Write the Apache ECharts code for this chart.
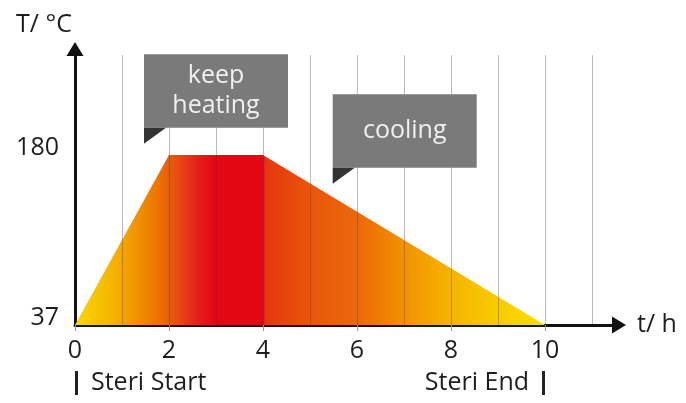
<!DOCTYPE html>
<html>
<head>
<meta charset="utf-8">
<script src="https://cdn.jsdelivr.net/npm/echarts@6/dist/echarts.min.js"></script>
<style>
  html, body { margin: 0; padding: 0; background: #fff; }
  #chart { width: 686px; height: 403px; }
</style>
</head>
<body>
<div id="chart"></div>
<script>
// 温度曲线 (h, °C)
const timeH = [0, 2, 4, 10];
const tempC = [37, 180, 180, 37];
const xTickValues = [0, 2, 4, 6, 8, 10];
const yTickValues = [37, 180];
const gridHours = [1, 2, 3, 4, 5, 6, 7, 8, 9, 10, 11];
const holdTemp = 180;
const phaseLabels = ["keep\nheating", "cooling"];
const startLabel = "Steri Start";
const endLabel = "Steri End";

const FONT = '"Open Sans", sans-serif';
const TEXT = "#1e1e1e";
const X_MAX = 11.574;
const Y_MAX = 269.2;

const chart = echarts.init(document.getElementById("chart"));

// 横向渐变: 黄 -> 橙 -> 红 -> 橙 -> 黄
const fill = new echarts.graphic.LinearGradient(0, 0, 1, 0, [
  { offset: 0, color: "#f9d800" },
  { offset: 0.08, color: "#f6b400" },
  { offset: 0.12, color: "#f29a00" },
  { offset: 0.17, color: "#ee7800" },
  { offset: 0.21, color: "#e9540f" },
  { offset: 0.26, color: "#e3201a" },
  { offset: 0.3, color: "#e30613" },
  { offset: 0.4, color: "#e30613" },
  { offset: 0.405, color: "#e5360f" },
  { offset: 0.5, color: "#e9560c" },
  { offset: 0.6, color: "#eb680a" },
  { offset: 0.7, color: "#f29200" },
  { offset: 0.8, color: "#f6b400" },
  { offset: 0.9, color: "#f8cc00" },
  { offset: 1, color: "#fbde00" },
]);

const profile = timeH.map((t, i) => [t, tempC[i]]);

const gridLines = gridHours.map((h) => [
  { coord: [h, 37] },
  { coord: [h, 264] },
]);
gridLines.push([
  { coord: [-0.15, holdTemp], lineStyle: { color: "#8f8f8f", width: 1, type: "solid" } },
  { coord: [11.45, holdTemp] },
]);

// 提示框 (灰色方块 + 深色小三角)
const callout = (text, coord) => [
  {
    coord: coord,
    symbol: "rect",
    symbolSize: [144, 73.5],
    symbolOffset: [72, -36.75],
    itemStyle: { color: "#7a7a7a" },
    label: {
      show: true,
      position: "inside",
      formatter: text,
      color: "#f0f0f0",
      fontSize: 25,
      lineHeight: 30,
      fontFamily: FONT,
    },
  },
  {
    coord: coord,
    symbol: "path://M0,0L22,0L0,16Z",
    symbolSize: [22, 16],
    symbolOffset: [11, 8],
    itemStyle: { color: "#333" },
    label: { show: false },
  },
];

const hiddenAxis = {
  type: "value",
  min: 0,
  max: X_MAX,
  position: "bottom",
  axisLine: { show: false, onZero: false },
  axisTick: { show: false },
  splitLine: { show: false },
};
const barRich = {
  bar: { width: 3, height: 24, backgroundColor: "#222" },
  t: { fontSize: 25, fontFamily: FONT, color: TEXT, lineHeight: 26 },
};

const option = {
  animation: false,
  grid: { left: 75, right: 67, top: 49, bottom: 78 },
  xAxis: [
    {
      type: "value",
      min: 0,
      max: X_MAX,
      position: "bottom",
      name: "t/ h",
      nameLocation: "end",
      nameGap: 18,
      nameTextStyle: { fontSize: 25, fontFamily: FONT, color: TEXT },
      axisLine: {
        onZero: false,
        symbol: ["none", "triangle"],
        symbolSize: [17, 14],
        lineStyle: { color: "#111", width: 3 },
      },
      axisTick: {
        customValues: xTickValues,
        length: 6,
        lineStyle: { color: "#999", width: 1 },
      },
      axisLabel: {
        customValues: xTickValues,
        margin: 14,
        fontSize: 25,
        lineHeight: 24,
        fontFamily: FONT,
        color: TEXT,
      },
      splitLine: { show: false },
    },
    Object.assign({}, hiddenAxis, {
      axisLabel: {
        customValues: [0],
        align: "left",
        margin: 45,
        formatter: () => "{bar|}{t|" + "\u00a0\u00a0" + startLabel + "}",
        rich: barRich,
      },
    }),
    Object.assign({}, hiddenAxis, {
      axisLabel: {
        customValues: [10],
        align: "right",
        margin: 45,
        formatter: () => "{t|" + endLabel + "\u00a0\u00a0}{bar|}",
        rich: barRich,
      },
    }),
  ],
  yAxis: {
    type: "value",
    min: 37,
    max: Y_MAX,
    name: "T/ °C",
    nameLocation: "end",
    nameGap: 12,
    nameTextStyle: {
      fontSize: 25,
      fontFamily: FONT,
      color: TEXT,
      padding: [0, 62, 0, 0],
    },
    axisLine: {
      symbol: ["none", "triangle"],
      symbolSize: [17, 14],
      lineStyle: { color: "#111", width: 3 },
    },
    axisTick: { show: false },
    axisLabel: {
      customValues: yTickValues,
      margin: 16,
      verticalAlign: "bottom",
      lineHeight: 15,
      fontSize: 25,
      fontFamily: FONT,
      color: TEXT,
    },
    splitLine: { show: false },
  },
  series: [
    {
      // 渐变面积
      type: "line",
      z: 1,
      data: profile,
      showSymbol: false,
      lineStyle: { width: 0 },
      areaStyle: { color: fill, opacity: 1 },
    },
    {
      // 网格线, 压在面积上方
      type: "line",
      z: 3,
      data: profile,
      showSymbol: false,
      clip: false,
      lineStyle: { width: 0 },
      markLine: {
        silent: true,
        symbol: ["none", "none"],
        label: { show: false },
        lineStyle: { color: "rgba(60,60,60,0.35)", width: 1, type: "solid" },
        data: gridLines,
      },
    },
    {
      // 提示框
      type: "line",
      z: 6,
      data: profile,
      showSymbol: false,
      clip: false,
      lineStyle: { width: 0 },
      markPoint: {
        silent: true,
        data: [
          ...callout(phaseLabels[0], [1.468, 202.9]),
          ...callout(phaseLabels[1], [5.483, 169.3]),
        ],
      },
    },
  ],
};

chart.setOption(option);

window.addEventListener("resize", () => {
  chart.resize();
});
</script>
</body>
</html>
